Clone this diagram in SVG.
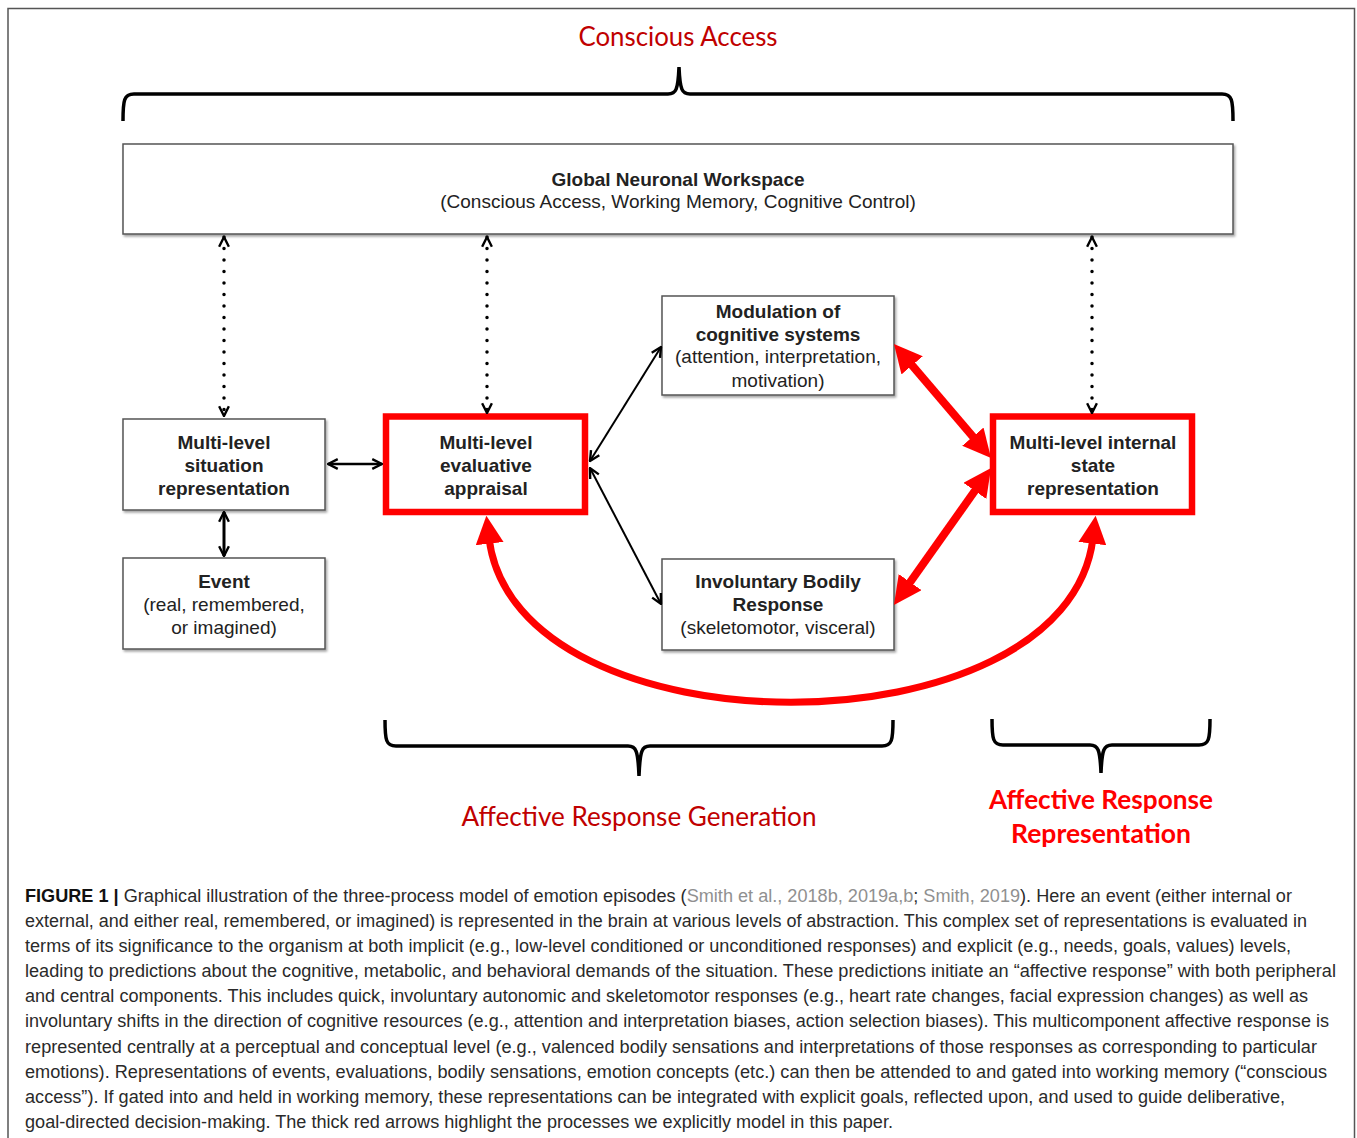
<svg xmlns="http://www.w3.org/2000/svg" width="1357" height="1138" viewBox="0 0 1357 1138">
<style>
.box{fill:#fff;stroke:#555;stroke-width:1.5;filter:url(#sh)}
.rbox{fill:#fff;stroke:#ff0000;stroke-width:6.5}
.b{font-family:"Liberation Sans",Arial,sans-serif;font-weight:bold;font-size:19px;fill:#222;text-anchor:middle}
.r{font-family:"Liberation Sans",Arial,sans-serif;font-size:19px;fill:#222;text-anchor:middle}
.lab{font-family:Lato,"Open Sans",sans-serif;font-size:27px;fill:#c00000;text-anchor:middle}
.labb{font-family:Lato,"Open Sans",sans-serif;font-size:27px;font-weight:bold;fill:#ff0000;text-anchor:middle}
.brace{fill:none;stroke:#000;stroke-width:3.5}
.thin{fill:none;stroke:#000;stroke-width:2;marker-start:url(#open);marker-end:url(#open)}
.dot{fill:none;stroke:#000;stroke-width:3.5;stroke-dasharray:0 11.5;stroke-linecap:round;marker-start:url(#open);marker-end:url(#open)}
.red{fill:none;stroke:#ff0000;stroke-width:8;marker-start:url(#redh);marker-end:url(#redh)}
.cap{font-family:"Liberation Sans",Arial,sans-serif;font-size:17.5px;fill:#2a2a2a}
.cite{fill:#909090}
</style>
<defs>
<filter id="sh" x="-5%" y="-5%" width="110%" height="115%">
<feDropShadow dx="1.5" dy="2" stdDeviation="1.2" flood-color="#000" flood-opacity="0.35"/>
</filter>
<marker id="open" viewBox="0 0 12 12" refX="11" refY="6" markerWidth="13" markerHeight="13" markerUnits="userSpaceOnUse" orient="auto-start-reverse">
<path d="M2,1.5 L11,6 L2,10.5" fill="none" stroke="#000" stroke-width="2.2"/>
</marker>
<marker id="redh" viewBox="0 0 10 10" refX="2" refY="5" markerWidth="28" markerHeight="28" markerUnits="userSpaceOnUse" orient="auto-start-reverse">
<path d="M0,0 L10,5 L0,10 z" fill="#ff0000"/>
</marker>
</defs>
<rect x="0" y="0" width="1357" height="1138" fill="#fff"/>
<rect id="frame" x="8" y="8.5" width="1346.5" height="1140" fill="none" stroke="#555" stroke-width="1.5"/>

<g id="title-conscious">
<text class="lab" x="678" y="46" textLength="199" lengthAdjust="spacingAndGlyphs">Conscious Access</text>
<path class="brace" d="M123,121 C123,100 124,94 134,94 L668,94 C676,94 678,90 679,67 C680,90 682,94 690,94 L1222,94 C1232,94 1233,100 1233,121"/>
</g>

<g id="gnw">
<rect class="box" x="123" y="144" width="1110" height="90"/>
<text class="b" x="678" y="186">Global Neuronal Workspace</text>
<text class="r" x="678" y="208">(Conscious Access, Working Memory, Cognitive Control)</text>
</g>

<g id="situation">
<rect class="box" x="123" y="419" width="202" height="91"/>
<text class="b" x="224" y="449">Multi-level</text>
<text class="b" x="224" y="472">situation</text>
<text class="b" x="224" y="495">representation</text>
</g>

<g id="event">
<rect class="box" x="123" y="558" width="202" height="91"/>
<text class="b" x="224" y="588">Event</text>
<text class="r" x="224" y="611">(real, remembered,</text>
<text class="r" x="224" y="634">or imagined)</text>
</g>

<g id="appraisal">
<rect class="rbox" x="386" y="416.5" width="199" height="95.5"/>
<text class="b" x="486" y="449">Multi-level</text>
<text class="b" x="486" y="472">evaluative</text>
<text class="b" x="486" y="495">appraisal</text>
</g>

<g id="modulation">
<rect class="box" x="662" y="296" width="232" height="99"/>
<text class="b" x="778" y="318">Modulation of</text>
<text class="b" x="778" y="341">cognitive systems</text>
<text class="r" x="778" y="363">(attention, interpretation,</text>
<text class="r" x="778" y="387">motivation)</text>
</g>

<g id="bodily">
<rect class="box" x="662" y="559" width="232" height="91"/>
<text class="b" x="778" y="588">Involuntary Bodily</text>
<text class="b" x="778" y="611">Response</text>
<text class="r" x="778" y="634">(skeletomotor, visceral)</text>
</g>

<g id="internal">
<rect class="rbox" x="993" y="416.5" width="199" height="95.5"/>
<text class="b" x="1093" y="449">Multi-level internal</text>
<text class="b" x="1093" y="472">state</text>
<text class="b" x="1093" y="495">representation</text>
</g>

<g id="connectors">
<line class="dot" x1="224" y1="237" x2="224" y2="416"/>
<line class="dot" x1="487" y1="237" x2="487" y2="413"/>
<line class="dot" x1="1092" y1="237" x2="1092" y2="413"/>
<line class="thin" x1="328" y1="464" x2="382" y2="464" style="stroke-width:2.5"/>
<line class="thin" x1="224" y1="512" x2="224" y2="556" style="stroke-width:3"/>
<line class="thin" x1="590" y1="461" x2="661" y2="347"/>
<line class="thin" x1="590" y1="468" x2="661" y2="604"/>
<line class="red" x1="908.5" y1="361.1" x2="976.5" y2="440.9"/>
<line class="red" x1="978.1" y1="486.3" x2="906.9" y2="586.7"/>
<path class="red" style="stroke-width:7" d="M489,538 C515,757 1067,757 1093,538"/>
</g>

<g id="generation">
<path class="brace" d="M385,720 C385,740 386,746 396,746 L628,746 C636,746 638,750 639,776 C640,750 642,746 650,746 L882,746 C892,746 893,740 893,720"/>
<text class="lab" x="639" y="826" textLength="355" lengthAdjust="spacingAndGlyphs">Affective Response Generation</text>
</g>

<g id="representation">
<path class="brace" d="M992,719 C992,739 993,745 1003,745 L1090,745 C1098,745 1100,749 1101,773 C1102,749 1104,745 1112,745 L1199,745 C1209,745 1210,739 1210,719"/>
<text class="labb" x="1101" y="809" textLength="224" lengthAdjust="spacingAndGlyphs">Affective Response</text>
<text class="labb" x="1101" y="843" textLength="180" lengthAdjust="spacingAndGlyphs">Representation</text>
</g>

<g id="caption">
<text class="cap" x="25" y="902" textLength="1267" lengthAdjust="spacingAndGlyphs"><tspan font-weight="bold" fill="#111">FIGURE 1 | </tspan>Graphical illustration of the three-process model of emotion episodes (<tspan class="cite">Smith et al., 2018b, 2019a,b</tspan>; <tspan class="cite">Smith, 2019</tspan>). Here an event (either internal or</text>
<text class="cap" x="25" y="927" textLength="1282" lengthAdjust="spacingAndGlyphs">external, and either real, remembered, or imagined) is represented in the brain at various levels of abstraction. This complex set of representations is evaluated in</text>
<text class="cap" x="25" y="952" textLength="1266" lengthAdjust="spacingAndGlyphs">terms of its significance to the organism at both implicit (e.g., low-level conditioned or unconditioned responses) and explicit (e.g., needs, goals, values) levels,</text>
<text class="cap" x="25" y="977" textLength="1311" lengthAdjust="spacingAndGlyphs">leading to predictions about the cognitive, metabolic, and behavioral demands of the situation. These predictions initiate an “affective response” with both peripheral</text>
<text class="cap" x="25" y="1002" textLength="1283" lengthAdjust="spacingAndGlyphs">and central components. This includes quick, involuntary autonomic and skeletomotor responses (e.g., heart rate changes, facial expression changes) as well as</text>
<text class="cap" x="25" y="1027" textLength="1304" lengthAdjust="spacingAndGlyphs">involuntary shifts in the direction of cognitive resources (e.g., attention and interpretation biases, action selection biases). This multicomponent affective response is</text>
<text class="cap" x="25" y="1053" textLength="1292" lengthAdjust="spacingAndGlyphs">represented centrally at a perceptual and conceptual level (e.g., valenced bodily sensations and interpretations of those responses as corresponding to particular</text>
<text class="cap" x="25" y="1078" textLength="1302" lengthAdjust="spacingAndGlyphs">emotions). Representations of events, evaluations, bodily sensations, emotion concepts (etc.) can then be attended to and gated into working memory (“conscious</text>
<text class="cap" x="25" y="1103" textLength="1260" lengthAdjust="spacingAndGlyphs">access”). If gated into and held in working memory, these representations can be integrated with explicit goals, reflected upon, and used to guide deliberative,</text>
<text class="cap" x="25" y="1128" textLength="868" lengthAdjust="spacingAndGlyphs">goal-directed decision-making. The thick red arrows highlight the processes we explicitly model in this paper.</text>
</g>
</svg>
